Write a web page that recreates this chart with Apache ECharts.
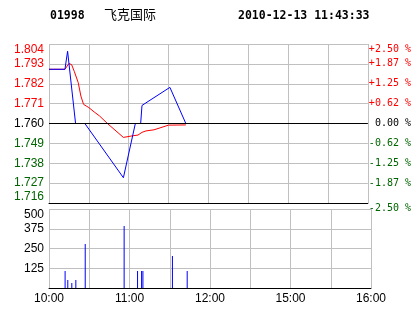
<!DOCTYPE html>
<html>
<head>
<meta charset="utf-8">
<script src="https://cdn.jsdelivr.net/npm/echarts@6/dist/echarts.min.js"></script>
<style>html,body{margin:0;padding:0;background:#fff;}#c{width:414px;height:314px;}</style>
</head>
<body>
<div id="c"></div>
<script>
// ---- data ----
var stockCode = '01998';
var stockName = '飞克国际';
var stampText = '2010-12-13 11:43:33';
var prevClose = 1.760;

// price line (minute index from 10:00, trading minutes)
var priceMinutes = [0, 12, 14, 20, 27, 56, 65, 69, 70, 91, 103];
var priceValues  = [1.790, 1.790, 1.800, 1.760, 1.760, 1.730, 1.760, 1.760, 1.770, 1.780, 1.760];

// average price line
var avgMinutes = [0, 12, 15, 17, 19, 22, 24, 26, 28, 30, 34, 38, 44, 56, 63, 67, 70, 73, 79, 90, 103];
var avgValues  = [1.790, 1.790, 1.7932, 1.7926, 1.7889, 1.7826, 1.7752, 1.7706, 1.7697, 1.7688, 1.7664, 1.7642, 1.7600, 1.7523, 1.7532, 1.7536, 1.7551, 1.7559, 1.7565, 1.7591, 1.7592];

// volume bars
var volMinutes = [12, 14, 17, 20, 27, 56, 66, 69, 70, 92, 103];
var volValues  = [108, 51, 32, 51, 278, 392, 108, 108, 108, 202, 108];

// tick labels
var timeTickMinutes = [0, 60, 120, 180, 240];
var timeTickLabels  = ['10:00', '11:00', '12:00', '15:00', '16:00'];
var pctTickLabels = ['-2.50 %', '-1.87 %', '-1.25 %', '-0.62 %', ' 0.00 %', '+0.62 %', '+1.25 %', '+1.87 %', '+2.50 %'];

// ---- chart ----
var RED = '#ff0000', GREEN = '#006400', GRID = '#c0c0c0';
function pairs(xs, ys) { return xs.map(function (x, i) { return [x, ys[i]]; }); }

var chart = echarts.init(document.getElementById('c'), null, {renderer: 'canvas'});
var headFont = {fontFamily: 'DejaVu Sans Mono', fontWeight: 'bold', fontSize: 11.5, color: '#000'};
var option = {
  animation: false,
  backgroundColor: '#fff',
  title: [
    {text: stockCode, left: 50, top: 10, padding: 0, textStyle: headFont},
    {text: stockName, left: 104, top: 8, padding: 0, textStyle: {fontFamily: 'Noto Sans CJK SC', fontWeight: 'normal', fontSize: 13, color: '#000'}},
    {text: stampText, left: 238, top: 10, padding: 0, textStyle: headFont}
  ],
  grid: [
    {left: 49, top: 44, width: 322, height: 159},
    {left: 49, top: 209, width: 322, height: 79}
  ],
  xAxis: [
    {type: 'value', gridIndex: 0, min: 0, max: 240, interval: 30,
     axisLine: {show: true, onZero: false, lineStyle: {color: '#000', width: 1}},
     axisTick: {show: false}, axisLabel: {show: false},
     splitLine: {show: true, lineStyle: {color: GRID, width: 1}}},
    {type: 'value', gridIndex: 1, min: 0, max: 240, interval: 30,
     axisLine: {show: true, onZero: false, lineStyle: {color: '#000', width: 1}},
     axisTick: {show: false},
     axisLabel: {show: true, margin: 5, fontFamily: 'Liberation Sans', fontSize: 12, color: '#000',
       formatter: function (v) { var i = timeTickMinutes.indexOf(Number(v)); return i >= 0 ? timeTickLabels[i] : ''; }},
     splitLine: {show: true, lineStyle: {color: GRID, width: 1}}}
  ],
  yAxis: [
    {type: 'value', gridIndex: 0, position: 'left', min: 1.716, max: 1.804, interval: 0.011,
     axisLine: {show: false, onZero: false}, axisTick: {show: false},
     axisLabel: {margin: 5, fontFamily: 'Liberation Sans', fontSize: 12,
       verticalAlignMaxLabel: 'top', verticalAlignMinLabel: 'bottom',
       formatter: function (v) { return Number(v).toFixed(3); },
       color: function (v) { v = Number(v); return v > prevClose + 0.0005 ? RED : (v < prevClose - 0.0005 ? GREEN : '#000'); }},
     splitLine: {show: true, lineStyle: {color: GRID, width: 1}}},
    {type: 'value', gridIndex: 0, position: 'right', min: -2.5, max: 2.5, interval: 0.625,
     axisLine: {show: false, onZero: false}, axisTick: {show: false},
     axisLabel: {margin: 1, fontFamily: 'DejaVu Sans Mono', fontSize: 10,
       verticalAlignMaxLabel: 'top', verticalAlignMinLabel: 'top',
       formatter: function (v, i) { return pctTickLabels[i] !== undefined ? pctTickLabels[i] : ''; },
       color: function (v) { v = Number(v); return v > 0.001 ? RED : (v < -0.001 ? GREEN : '#000'); }},
     splitLine: {show: false}},
    {type: 'value', gridIndex: 1, position: 'left', min: 0, max: 500, interval: 125,
     axisLine: {show: false, onZero: false}, axisTick: {show: false},
     axisLabel: {margin: 5, fontFamily: 'Liberation Sans', fontSize: 12, color: '#000',
       verticalAlignMaxLabel: 'top',
       formatter: function (v) { return Number(v) === 0 ? '' : String(v); }},
     splitLine: {show: true, lineStyle: {color: GRID, width: 1}}}
  ],
  series: [
    {type: 'line', name: 'avg', xAxisIndex: 0, yAxisIndex: 0, z: 3,
     data: pairs(avgMinutes, avgValues), showSymbol: false, symbol: 'none',
     lineStyle: {color: RED, width: 1}, itemStyle: {color: RED},
     markLine: {silent: true, symbol: 'none', label: {show: false},
       lineStyle: {color: '#000', type: 'solid', width: 1},
       data: [{yAxis: prevClose}]}},
    {type: 'line', name: 'price', xAxisIndex: 0, yAxisIndex: 0, z: 4,
     data: pairs(priceMinutes, priceValues), showSymbol: false, symbol: 'none',
     lineStyle: {color: '#0000ff', width: 1}, itemStyle: {color: '#0000ff'}},
    {type: 'bar', name: 'vol', xAxisIndex: 1, yAxisIndex: 2,
     data: pairs(volMinutes, volValues), barWidth: 1,
     itemStyle: {color: '#0000ff'}}
  ]
};
chart.setOption(option);
</script>
</body>
</html>
